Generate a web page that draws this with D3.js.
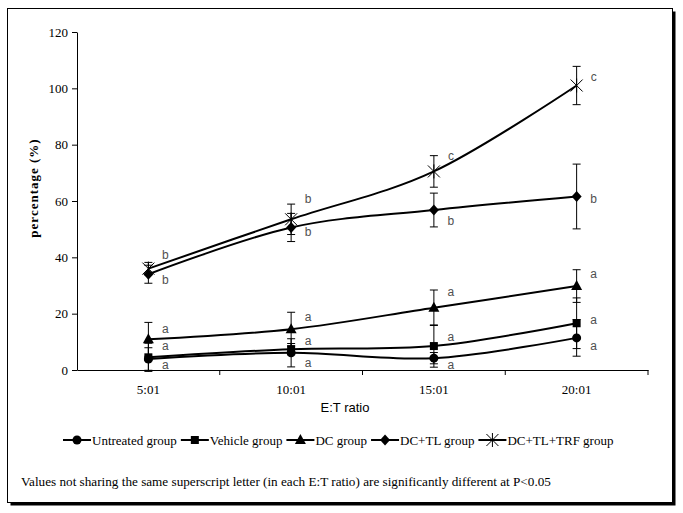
<!DOCTYPE html>
<html>
<head>
<meta charset="utf-8">
<script src="https://cdn.jsdelivr.net/npm/d3@7"></script>
<style>
  body { margin: 0; background: #fff; }
  text { fill: #000; }
</style>
</head>
<body>
<div id="chart"></div>
<script>
// E:T ratio categories
const ratios = ["5:01", "10:01", "15:01", "20:01"];
const groups = ["Untreated group", "Vehicle group", "DC group", "DC+TL group", "DC+TL+TRF group"];
const markers = ["circle", "square", "triangle", "diamond", "star"];

// mean percentage per ratio
const untreated = [3.9, 6.1, 4.2, 11.4];
const vehicle = [4.5, 7.4, 8.5, 16.6];
const dcGroup = [10.9, 14.5, 22.1, 29.8];
const dcTl = [34, 50.6, 56.8, 61.6];
const dcTlTrf = [36, 53.5, 70.5, 101];

// error (+/-)
const untreatedErr = [4, 5, 2, 6.5];
const vehicleErr = [5, 2, 7.5, 9];
const dcGroupErr = [6, 6, 6.3, 5.8];
const dcTlErr = [3.2, 5, 6, 11.5];
const dcTlTrfErr = [2.2, 5.4, 5.6, 6.8];

// superscript letters and where they sit (in % units)
const letters = [
  ["a", "a", "a", "a"],
  ["a", "a", "a", "a"],
  ["a", "a", "a", "a"],
  ["b", "b", "b", "b"],
  ["b", "b", "c", "c"]
];
const letterAt = [
  [1.8, 2.5, 1.8, 8.5],
  [8.5, 10.3, 11.7, 17.7],
  [14.5, 18.8, 27.7, 34],
  [32, 49, 53, 60.7],
  [40.8, 60.7, 76, 104]
];

const yTicks = [0, 20, 40, 60, 80, 100, 120];

const means = [untreated, vehicle, dcGroup, dcTl, dcTlTrf];
const errs = [untreatedErr, vehicleErr, dcGroupErr, dcTlErr, dcTlTrfErr];

const width = 683;
const height = 513;

const svg = d3.select("#chart")
  .append("svg")
  .attr("width", width)
  .attr("height", height);

// frame with drop shadow
svg.append("rect")
  .attr("x", 10.5).attr("y", 11.5)
  .attr("width", 665).attr("height", 494)
  .attr("fill", "#000");
svg.append("rect")
  .attr("x", 7.5).attr("y", 8.5)
  .attr("width", 665).attr("height", 494)
  .attr("fill", "#fff")
  .attr("stroke", "#000")
  .attr("stroke-width", 1);

const x = d3.scaleBand().domain(ratios).range([77, 648]);
const y = d3.scaleLinear().domain([0, 120]).range([370, 32]);
const cx = d => x(d) + x.bandwidth() / 2;

const serif = "'Liberation Serif', 'Times New Roman', serif";
const sans = "'Liberation Sans', Arial, sans-serif";

// y axis
const yAxis = svg.append("g")
  .attr("transform", "translate(77,0)")
  .call(d3.axisLeft(y).tickValues(yTicks).tickSize(5).tickSizeOuter(0).tickPadding(4));
yAxis.selectAll("text").attr("font-family", serif).attr("font-size", 13);
yAxis.selectAll("line, path").attr("stroke", "#000");

// x axis: labels at centres, ticks at category borders
const xAxis = svg.append("g")
  .attr("transform", "translate(0,370)")
  .call(d3.axisBottom(x).tickSize(0).tickSizeOuter(0).tickPadding(15));
xAxis.selectAll("text").attr("font-family", serif).attr("font-size", 13);
xAxis.select("path").attr("stroke", "#000");
svg.append("g")
  .selectAll("line")
  .data(ratios.slice(1).map(r => x(r)).concat([x.range()[1]]))
  .join("line")
  .attr("x1", d => d).attr("x2", d => d)
  .attr("y1", 370).attr("y2", 375)
  .attr("stroke", "#000");

svg.append("text")
  .attr("x", 345).attr("y", 412)
  .attr("text-anchor", "middle")
  .attr("font-family", sans)
  .attr("font-size", 13)
  .text("E:T ratio");

svg.append("text")
  .attr("transform", "translate(38,188) rotate(-90)")
  .attr("text-anchor", "middle")
  .attr("font-family", serif)
  .attr("font-weight", "bold")
  .attr("font-size", 13)
  .attr("letter-spacing", 1)
  .text("percentage (%)");

function drawMarker(g, type, px, py) {
  if (type === "circle") {
    g.append("circle").attr("cx", px).attr("cy", py).attr("r", 4.5).attr("fill", "#000");
  } else if (type === "square") {
    g.append("rect").attr("x", px - 4).attr("y", py - 4).attr("width", 8).attr("height", 8).attr("fill", "#000");
  } else if (type === "triangle") {
    g.append("path").attr("d", `M${px},${py - 6}L${px + 5.5},${py + 4}L${px - 5.5},${py + 4}Z`).attr("fill", "#000");
  } else if (type === "diamond") {
    g.append("path").attr("d", `M${px},${py - 5.5}L${px + 5},${py}L${px},${py + 5.5}L${px - 5},${py}Z`).attr("fill", "#000");
  } else {
    g.append("path")
      .attr("d", `M${px - 6},${py - 6}L${px + 6},${py + 6}M${px - 6},${py + 6}L${px + 6},${py - 6}M${px},${py - 7}L${px},${py + 7}`)
      .attr("stroke", "#000").attr("stroke-width", 1).attr("fill", "none");
  }
}

const line = d3.line()
  .x((d, i) => cx(ratios[i]))
  .y(d => y(d))
  .curve(d3.curveCatmullRom.alpha(0));

// error bars
means.forEach((vals, gi) => {
  const g = svg.append("g");
  vals.forEach((v, i) => {
    const px = cx(ratios[i]);
    const e = errs[gi][i];
    g.append("line").attr("x1", px).attr("x2", px).attr("y1", y(v - e)).attr("y2", y(v + e)).attr("stroke", "#000");
    [v - e, v + e].forEach(t => {
      g.append("line").attr("x1", px - 4).attr("x2", px + 4).attr("y1", y(t)).attr("y2", y(t)).attr("stroke", "#000");
    });
  });
});

// lines and markers
means.forEach((vals, gi) => {
  const g = svg.append("g");
  g.append("path")
    .attr("d", line(vals))
    .attr("fill", "none")
    .attr("stroke", "#000")
    .attr("stroke-width", 2);
  vals.forEach((v, i) => drawMarker(g, markers[gi], cx(ratios[i]), y(v)));
});

// significance letters
letters.forEach((row, gi) => {
  row.forEach((l, i) => {
    svg.append("text")
      .attr("x", cx(ratios[i]) + 17)
      .attr("y", y(letterAt[gi][i]) + 4)
      .attr("text-anchor", "middle")
      .attr("font-family", sans)
      .attr("font-size", 12)
      .style("fill", "#505050")
      .text(l);
  });
});

// legend
let lx = 63;
const ly = 440;
groups.forEach((name, gi) => {
  const g = svg.append("g");
  g.append("line").attr("x1", lx).attr("x2", lx + 28).attr("y1", ly).attr("y2", ly)
    .attr("stroke", "#000").attr("stroke-width", 2);
  drawMarker(g, markers[gi], lx + 14, ly);
  const t = g.append("text")
    .attr("x", lx + 29).attr("y", ly + 4.5)
    .attr("font-family", serif)
    .attr("font-size", 13)
    .text(name);
  lx += 29 + t.node().getComputedTextLength() + 4;
});

svg.append("text")
  .attr("x", 21).attr("y", 486)
  .attr("font-family", serif)
  .attr("font-size", 13.2)
  .text("Values not sharing the same superscript letter (in each E:T ratio) are significantly different at P<0.05");
</script>
</body>
</html>
